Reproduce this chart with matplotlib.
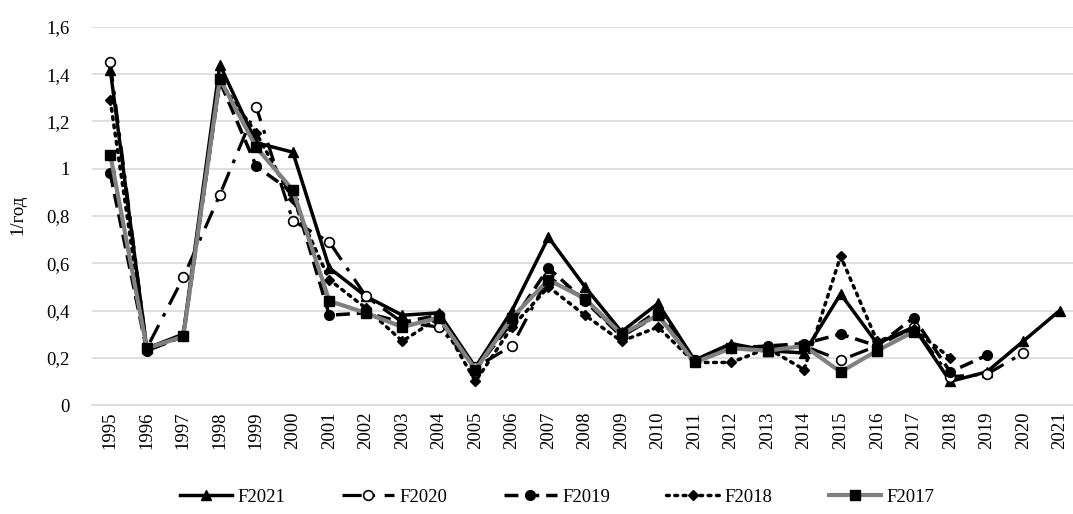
import matplotlib.pyplot as plt
import numpy as np

years = [str(y) for y in range(1995, 2022)]

f2021 = [1.42, 0.24, 0.30, 1.44, 1.11, 1.07, 0.58, 0.46, 0.38, 0.39, 0.16, 0.40, 0.71, 0.50,
         0.31, 0.43, 0.19, 0.26, 0.23, 0.22, 0.47, 0.26, 0.33, 0.10, 0.14, 0.27, 0.40]
f2020 = [1.45, 0.24, 0.54, 0.89, 1.26, 0.78, 0.69, 0.46, 0.35, 0.33, 0.16, 0.25, 0.54, 0.45,
         0.29, 0.38, 0.19, 0.24, 0.24, 0.25, 0.19, 0.25, 0.33, 0.12, 0.13, 0.22]
f2019 = [0.98, 0.23, 0.29, 1.37, 1.01, 0.90, 0.38, 0.39, 0.35, 0.38, 0.15, 0.35, 0.58, 0.44,
         0.29, 0.40, 0.19, 0.24, 0.25, 0.26, 0.30, 0.25, 0.37, 0.14, 0.21]
f2018 = [1.29, 0.23, 0.30, 1.37, 1.15, 0.87, 0.53, 0.41, 0.27, 0.37, 0.10, 0.33, 0.50, 0.38,
         0.27, 0.33, 0.18, 0.18, 0.24, 0.15, 0.63, 0.27, 0.32, 0.20]
f2017 = [1.06, 0.24, 0.29, 1.38, 1.09, 0.91, 0.44, 0.39, 0.33, 0.37, 0.15, 0.37, 0.53, 0.45,
         0.30, 0.38, 0.18, 0.24, 0.23, 0.25, 0.14, 0.23, 0.31]

plt.rcParams["font.family"] = ["Liberation Serif", "DejaVu Serif"]

fig = plt.figure(figsize=(10.73, 5.14), dpi=100)
ax = fig.add_axes([92 / 1073, 1 - 405 / 514, 986 / 1073, 378 / 514])

x = np.arange(len(years))

ax.plot(x[:len(f2021)], f2021, color="black", linewidth=2.5, linestyle="-",
        marker="^", markersize=6.5, label="F2021", zorder=3)
ax.plot(x[:len(f2020)], f2020, color="black", linewidth=2.3, linestyle=(0, (6, 3, 1.2, 3)),
        marker="o", markersize=7, markerfacecolor="white", markeredgewidth=1.2,
        label="F2020", zorder=4)
ax.plot(x[:len(f2019)], f2019, color="black", linewidth=2.5, linestyle=(0, (4, 2)),
        marker="o", markersize=7, label="F2019", zorder=5)
ax.plot(x[:len(f2018)], f2018, color="black", linewidth=2.5, linestyle=(0, (0.8, 1.6)),
        dash_capstyle="round", marker="D", markersize=5, label="F2018", zorder=6)
ax.plot(x[:len(f2017)], f2017, color="#808080", linewidth=3, linestyle="-",
        marker="s", markersize=7, markerfacecolor="black", markeredgecolor="black",
        label="F2017", zorder=7)

ax.set_xlim(-0.5, len(years) - 0.5)
ax.set_ylim(0, 1.6)
ax.set_xticks(x)
ax.set_xticklabels(years, rotation=90, fontsize=13.5)
yt = np.arange(0, 1.61, 0.2)
ax.set_yticks(yt)
ax.set_yticklabels(["0" if v < 1e-9 else ("1" if abs(v - 1) < 1e-9 else f"{v:.1f}".replace(".", ","))
                    for v in yt], fontsize=13.5)
ax.tick_params(axis="x", length=0, pad=5)
ax.tick_params(axis="y", length=0, pad=16)
ax.grid(axis="y", color="#d9d9d9", linewidth=1.2)
ax.set_axisbelow(True)
for side in ["top", "right", "left"]:
    ax.spines[side].set_visible(False)
ax.spines["bottom"].set_color("#d9d9d9")
ax.spines["bottom"].set_linewidth(1.2)

fig.text(18 / 1073, 1 - 215 / 514, "1/год", rotation=90, fontsize=13.5,
         ha="center", va="center")

fig.legend(loc="center", bbox_to_anchor=(557 / 1073, 1 - 497 / 514), ncol=5,
           frameon=False, fontsize=13.5, handlelength=2.8, columnspacing=3.0,
           handletextpad=0.3)

fig.savefig("out.png", dpi=100)
